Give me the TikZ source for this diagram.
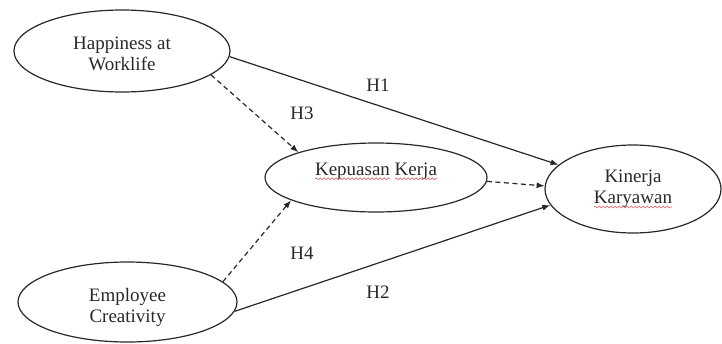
\documentclass[tikz,border=0pt]{standalone}
\usepackage{fontspec}
\setmainfont{Liberation Serif}
\usepackage{xcolor}
\usepackage{tikz}
\usetikzlibrary{arrows.meta,shapes.geometric,decorations.pathmorphing}
\definecolor{inkgray}{RGB}{40,40,40}
\definecolor{spellred}{RGB}{225,90,100}

\begin{document}
\begin{tikzpicture}[x=1pt, y=-1pt,
    construct/.style={
      ellipse, draw=inkgray, line width=1.2pt, inner sep=0pt,
      align=center, font=\fontsize{19}{21}\selectfont, text=inkgray
    },
    hyp/.style={font=\fontsize{19}{21}\selectfont, text=inkgray},
    arrow/.style={-{Latex[length=8pt,width=6pt]}, line width=1.2pt, draw=inkgray},
    dasharrow/.style={arrow, dash pattern=on 5pt off 3.5pt},
    spell/.style={draw=spellred, line width=0.6pt, decorate,
      decoration={snake, amplitude=0.9pt, segment length=4pt}}
  ]
    \useasboundingbox (0,0) rectangle (722,343);
    \node[construct, minimum width=216pt, minimum height=82pt] (hap) at (122,51) {\rule{0pt}{18pt}Happiness at\\Worklife};
    \node[construct, minimum width=222pt, minimum height=69pt] (kep) at (376,177.5) {Kepuasan Kerja\rule[-17pt]{0pt}{17pt}};
    \node[construct, minimum width=176pt, minimum height=88pt] (kin) at (633,189) {Kinerja\\Karyawan};
    \node[construct, minimum width=219pt, minimum height=80pt] (emp) at (127.5,302) {\rule{0pt}{25pt}Employee\\Creativity};
    \draw[arrow] (hap.357) -- (kin.162);
    \draw[arrow] (emp.355) -- (kin.191);
    \draw[dasharrow] (hap.345) -- (kep.162);
    \draw[dasharrow] (emp.12) -- (kep.195);
    \draw[dasharrow] (kep.358) -- (kin.178);
    \node[hyp] (h1) at (378,85) {H1};
    \node[hyp] (h3) at (302,113) {H3};
    \node[hyp] (h4) at (302,253) {H4};
    \node[hyp] (h2) at (378,292) {H2};
    % spelling marks
    \draw[spell] ([shift={(-61,3.5)}]kep.base) -- ([shift={(14,3.5)}]kep.base);
    \draw[spell] ([shift={(19,3.5)}]kep.base) -- ([shift={(61,3.5)}]kep.base);
    \draw[spell] ([shift={(-39,18)}]kin.center) -- ([shift={(39,18)}]kin.center);
  \end{tikzpicture}
\end{document}
